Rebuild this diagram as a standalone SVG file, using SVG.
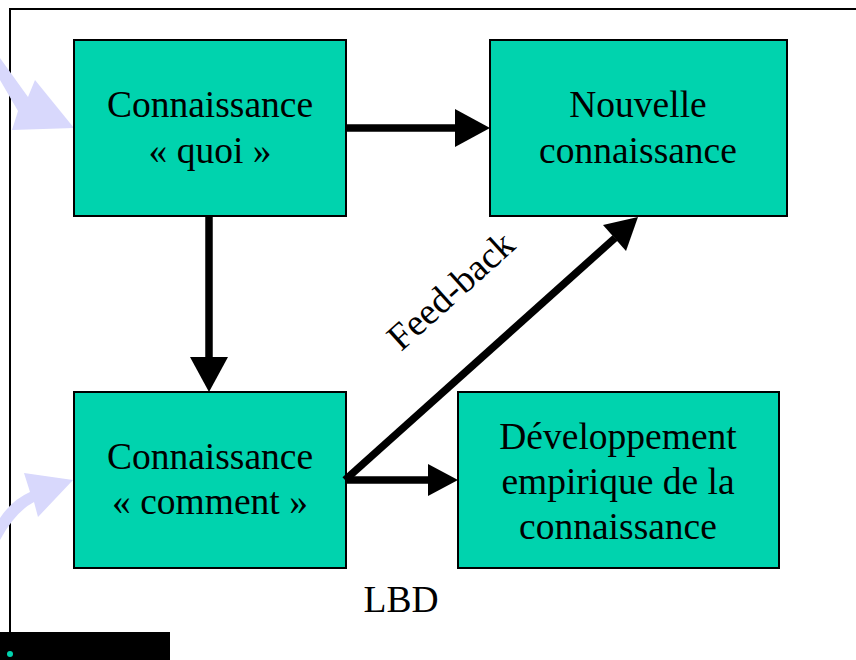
<svg xmlns="http://www.w3.org/2000/svg" width="856" height="660" viewBox="0 0 856 660">
<defs>
<style>
.box{fill:#00d3ae;stroke:#000;stroke-width:2}
.t{font-family:"Liberation Serif","Times New Roman",serif;font-size:37.5px;fill:#000;text-anchor:middle}
.ln{stroke:#000;stroke-width:7.5;fill:none}
.hd{fill:#000}
.bl{fill:#d8d8fc}
</style>
</defs>
<rect x="0" y="0" width="856" height="660" fill="#fff"/>
<path d="M10,632 V9 H856" fill="none" stroke="#000" stroke-width="2"/>
<rect x="0" y="632" width="170" height="28" fill="#000"/>
<circle cx="10" cy="654" r="3" fill="#00d3ae"/>
<g id="bluearrows">
<path class="bl" d="M0,58 L28,97 L35,80 L74,128 L12,130 L18,111 L0,80 Z"/>
<path class="bl" d="M0,518 Q12,500 30,492 L24,473 L73,480 L38,517 L34,502 Q15,512 0,540 Z"/>
</g>
<g id="n1"><rect class="box" x="74" y="40" width="272" height="176"/>
<text class="t" x="210" y="117">Connaissance</text><text class="t" x="210" y="163">« quoi »</text></g>
<g id="n2"><rect class="box" x="490" y="40" width="297" height="176"/>
<text class="t" x="638" y="117">Nouvelle</text><text class="t" x="638" y="163">connaissance</text></g>
<g id="n3"><rect class="box" x="74" y="392" width="272" height="176"/>
<text class="t" x="210" y="469">Connaissance</text><text class="t" x="210" y="514">« comment »</text></g>
<g id="n4"><rect class="box" x="458" y="392" width="321" height="176"/>
<text class="t" x="618" y="449">Développement</text><text class="t" x="618" y="494">empirique de la</text><text class="t" x="618" y="539">connaissance</text></g>
<g id="connectors">
<line class="ln" x1="346" y1="128" x2="460" y2="128"/>
<polygon class="hd" points="490,128 455,109 455,147"/>
<line class="ln" x1="209" y1="216" x2="209" y2="362"/>
<polygon class="hd" points="209,392 190,357 228,357"/>
<line class="ln" x1="345" y1="480" x2="432" y2="480"/>
<polygon class="hd" points="458,480 428,464 428,496"/>
<line class="ln" x1="345" y1="480" x2="615" y2="238"/>
<polygon class="hd" points="638,217 603,225 626,251"/>
<text class="t" x="459" y="300" font-size="39" transform="rotate(-42 459 300)">Feed-back</text>
</g>
<text class="t" x="401" y="612">LBD</text>
</svg>
